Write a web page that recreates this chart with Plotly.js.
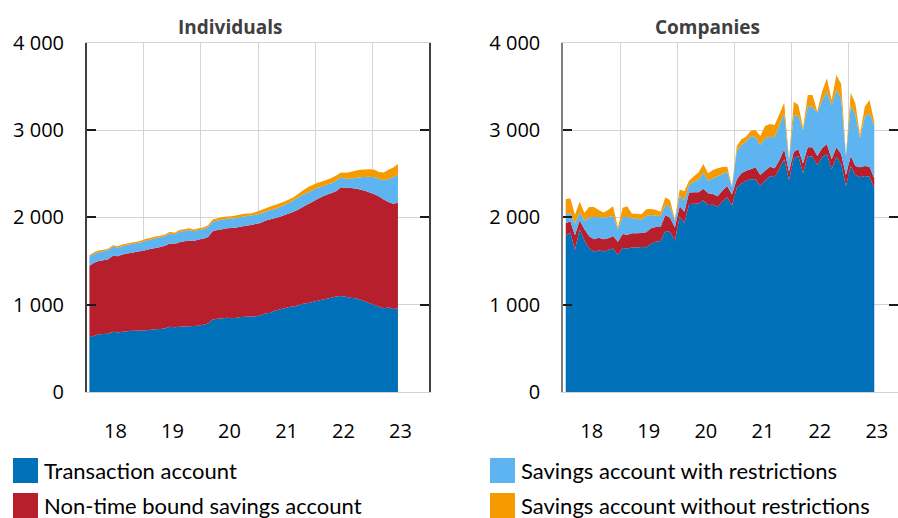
<!DOCTYPE html>
<html>
<head>
<meta charset="utf-8">
<script src="https://cdn.plot.ly/plotly-3.0.1.min.js"></script>
<style>html,body{margin:0;padding:0;background:#fff;}#chart{width:898px;height:518px;}</style>
</head>
<body>
<div id="chart"></div>
<script>
// Monthly observations (mid-month), Jan 2018 – Jun 2023
const months = [
 "2018-01","2018-02","2018-03","2018-04","2018-05","2018-06","2018-07","2018-08","2018-09","2018-10","2018-11","2018-12",
 "2019-01","2019-02","2019-03","2019-04","2019-05","2019-06","2019-07","2019-08","2019-09","2019-10","2019-11","2019-12",
 "2020-01","2020-02","2020-03","2020-04","2020-05","2020-06","2020-07","2020-08","2020-09","2020-10","2020-11","2020-12",
 "2021-01","2021-02","2021-03","2021-04","2021-05","2021-06","2021-07","2021-08","2021-09","2021-10","2021-11","2021-12",
 "2022-01","2022-02","2022-03","2022-04","2022-05","2022-06","2022-07","2022-08","2022-09","2022-10","2022-11","2022-12",
 "2023-01","2023-02","2023-03","2023-04","2023-05","2023-06"];

const seriesNames = ["Transaction account","Non-time bound savings account","Savings account with restrictions","Savings account without restrictions"];
const seriesColors = ["#0070B8","#B71F2D","#5DB4F0","#F59B00"];
const panelTitles = ["Individuals","Companies"];
const yTicks = [0,1000,2000,3000,4000];

// Individuals
const indTransaction = [627,645,660,665,668,690,680,690,695,700,702,705,708,712,718,722,730,748,742,748,750,752,755,760,770,785,830,838,842,850,845,850,860,862,868,865,880,900,905,930,945,955,972,980,992,1010,1020,1030,1045,1055,1068,1080,1095,1100,1090,1080,1075,1060,1040,1015,995,975,960,968,950,960];
const indNonTime = [818,835,840,845,852,870,875,885,890,895,903,910,917,928,932,938,945,952,953,967,975,983,973,985,985,990,1010,1017,1023,1025,1033,1035,1035,1043,1044,1060,1055,1060,1070,1060,1060,1070,1073,1085,1098,1110,1130,1150,1165,1180,1192,1200,1205,1245,1250,1255,1255,1260,1265,1270,1270,1265,1245,1207,1205,1208];
const indWithRestr = [105,105,100,102,105,105,100,95,100,100,100,100,110,105,110,112,110,115,110,120,120,120,112,110,110,115,110,110,110,110,107,110,110,110,108,105,105,100,105,105,110,115,120,130,140,140,135,130,130,115,115,110,120,110,100,110,120,140,157,180,195,200,220,265,305,317];
const indWithoutRestr = [15,15,20,18,15,15,15,20,15,17,17,20,20,20,20,18,20,20,20,20,20,20,20,20,20,20,25,25,25,25,27,30,30,30,25,30,40,40,40,45,45,40,40,35,40,50,60,60,55,60,55,60,60,60,70,75,85,85,86,85,85,80,90,105,110,125];

// Companies
const comTransaction = [1798,1824,1630,1860,1735,1645,1605,1622,1610,1628,1642,1569,1650,1642,1655,1656,1660,1658,1695,1721,1729,1845,1832,1731,2010,1935,2153,2157,2160,2195,2141,2145,2122,2179,2230,2135,2340,2389,2420,2435,2435,2359,2420,2473,2458,2561,2664,2427,2676,2702,2504,2702,2695,2599,2687,2725,2550,2695,2611,2359,2588,2485,2458,2473,2466,2332];
const comNonTime = [134,132,165,104,130,138,143,145,138,132,144,152,159,160,162,161,160,172,179,169,161,182,163,153,116,130,132,131,128,132,134,122,120,129,129,127,95,115,114,115,138,126,114,107,103,95,115,96,76,77,114,100,107,103,103,115,114,107,114,126,114,103,115,115,114,115];
const comWithRestr = [104,97,136,97,95,217,256,237,250,244,229,147,195,202,175,168,153,185,153,129,125,114,127,76,121,133,85,122,142,184,145,180,228,187,164,83,328,324,332,381,343,343,371,344,355,401,412,127,420,381,382,473,465,496,546,599,622,656,638,215,584,584,332,565,611,610];
const comWithoutRestr = [172,165,99,118,92,118,114,80,57,84,111,17,105,122,50,55,63,77,68,69,50,88,73,15,73,102,50,60,85,100,84,95,91,83,57,10,54,65,58,61,84,103,141,145,141,126,122,20,152,126,25,126,134,15,103,153,57,172,164,14,141,133,38,114,152,38];

const W = 898, H = 518;
const px = x => x / W;
const py = y => 1 - y / H;

function areaTraces(vals, xa, ya, grp) {
  return vals.map((v, k) => ({
    type: "scatter", mode: "none", x: months, y: v,
    xperiod: "M1", xperiodalignment: "middle",
    stackgroup: grp, fill: k === 0 ? "tozeroy" : "tonexty",
    fillcolor: seriesColors[k], line: {width: 0, color: seriesColors[k]},
    name: seriesNames[k], showlegend: false, xaxis: xa, yaxis: ya,
    hoverinfo: "x+y+name"
  }));
}

const data = [
  ...areaTraces([indTransaction, indNonTime, indWithRestr, indWithoutRestr], "x", "y", "ind"),
  ...areaTraces([comTransaction, comNonTime, comWithRestr, comWithoutRestr], "x2", "y2", "com")
];

const tickFont = {family: "Open Sans", size: 20, color: "#000"};
function xAxis(domain, range) {
  return {
    domain: domain, type: "date", range: range,
    tick0: "2018-01-01", dtick: "M12", tickformat: "%y", ticklabelmode: "period",
    showgrid: true, gridcolor: "#d4d4d4", gridwidth: 1,
    ticks: "", showline: true, linecolor: "#d4d4d4", linewidth: 1, mirror: true,
    zeroline: false,
    tickfont: tickFont, ticklabelstandoff: 21, fixedrange: true
  };
}
function yAxis(lineColor, anchor) {
  return {
    domain: [py(392), py(42.7)], anchor: anchor, range: [0, 4000],
    tickvals: yTicks, tickformat: ",d",
    showgrid: true, gridcolor: "#d4d4d4", gridwidth: 1, zeroline: false,
    showline: true, linecolor: lineColor, linewidth: 2, mirror: "ticks",
    ticks: "inside", ticklen: 9, tickwidth: 2, tickcolor: "#1a1a1a",
    tickfont: tickFont, ticklabelstandoff: 17, fixedrange: true
  };
}

const shapes = [];
const annotations = [];
panelTitles.forEach((t, k) => {
  annotations.push({
    text: t, xref: "paper", yref: "paper", x: px(k === 0 ? 230 : 707), y: py(27),
    xanchor: "center", yanchor: "middle", showarrow: false,
    font: {family: "Open Sans", size: 19, color: "#404040", weight: 700}
  });
});
// legend laid out in two columns, two rows
const legendOrder = [0, 2, 1, 3];
const legX = [13, 490], legY = [458, 493];
legendOrder.forEach((s, pos) => {
  const col = pos % 2, row = Math.floor(pos / 2);
  const x0 = legX[col], y0 = legY[row];
  shapes.push({
    type: "rect", xref: "paper", yref: "paper",
    x0: px(x0), x1: px(x0 + 25), y0: py(y0 + 25), y1: py(y0),
    fillcolor: seriesColors[s], line: {width: 0}
  });
  annotations.push({
    text: seriesNames[s], xref: "paper", yref: "paper",
    x: px(x0 + 29), y: py(y0 + 12.5), xanchor: "left", yanchor: "middle",
    showarrow: false, font: {family: "Lato", size: 22, color: "#000"}
  });
});

const layout = {
  width: W, height: H, margin: {l: 0, r: 0, t: 0, b: 0, autoexpand: false},
  paper_bgcolor: "#fff", plot_bgcolor: "#fff",
  separators: ", ",
  showlegend: false,
  xaxis: xAxis([px(87), px(429)], ["2018-01-01", "2024-01-01"]),
  yaxis: yAxis("#404040", "x"),
  xaxis2: xAxis([px(563.3), 1], ["2018-01-01", "2023-11-15"]),
  yaxis2: yAxis("#7f7f7f", "x2"),
  shapes: shapes, annotations: annotations
};
layout.xaxis.anchor = "y";
layout.xaxis2.anchor = "y2";

Plotly.newPlot("chart", data, layout, {displayModeBar: false, staticPlot: true});
</script>
</body>
</html>
